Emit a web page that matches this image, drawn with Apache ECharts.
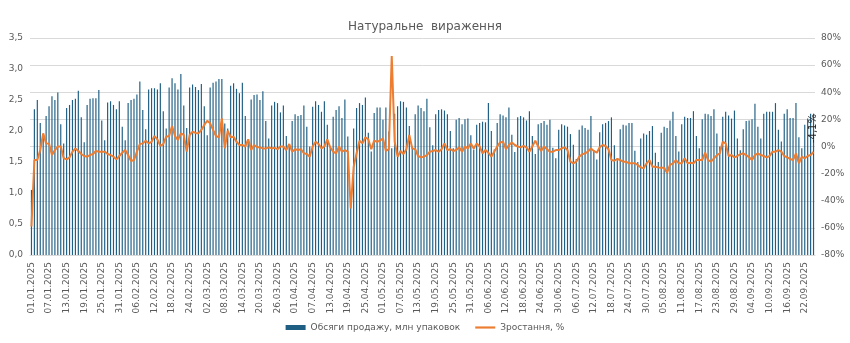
<!DOCTYPE html>
<html>
<head>
<meta charset="utf-8">
<script src="https://cdn.jsdelivr.net/npm/echarts@6/dist/echarts.min.js"></script>
<style>
html,body{margin:0;padding:0;background:#fff;}
#chart{width:850px;height:343px;}
</style>
</head>
<body>
<div id="chart"></div>
<script>
// Daily sales, mln packages (by month)
var salesJan = [1.05,2.35,2.50,2.13,1.90,2.24,2.40,2.56,2.50,2.62,2.11,1.80,2.37,2.42,2.50,2.52,2.65,2.22,1.82,2.42,2.52,2.53,2.53,2.66,2.17,1.85,2.46,2.48,2.42,2.35,2.48];
var salesFeb = [2.07,1.85,2.45,2.50,2.52,2.59,2.80,2.34,2.03,2.67,2.69,2.69,2.67,2.77,2.32,2.04,2.70,2.85,2.77,2.67,2.92,2.41,2.05,2.70,2.75,2.71,2.66,2.76];
var salesMar = [2.40,1.93,2.70,2.78,2.80,2.84,2.84,2.12,2.04,2.73,2.77,2.68,2.61,2.78,2.24,1.85,2.51,2.58,2.59,2.50,2.64,2.16,1.88,2.41,2.47,2.45,2.30,2.41,1.92,1.75,2.16];
var salesApr = [2.27,2.24,2.26,2.41,2.07,1.75,2.39,2.48,2.42,2.31,2.48,2.10,1.75,2.23,2.34,2.40,2.21,2.51,1.91,1.00,2.04,2.37,2.45,2.42,2.54,1.97,1.67,2.29,2.38,2.38];
var salesMay = [2.18,2.38,1.99,1.72,2.28,2.40,2.48,2.47,2.38,2.08,1.75,2.27,2.41,2.37,2.32,2.52,2.06,1.77,2.27,2.34,2.35,2.33,2.27,2.00,1.72,2.18,2.21,2.11,2.19,2.20,1.93];
var salesJun = [1.70,2.10,2.13,2.15,2.14,2.45,2.00,1.70,2.13,2.27,2.25,2.22,2.38,1.94,1.66,2.22,2.24,2.22,2.17,2.32,1.92,1.63,2.11,2.13,2.16,2.10,2.18,1.73,1.56,2.02];
var salesJul = [2.11,2.09,2.07,1.95,1.78,1.55,2.02,2.09,2.05,2.02,2.24,1.69,1.54,1.98,2.11,2.13,2.16,2.22,1.77,1.53,2.03,2.10,2.09,2.13,2.13,1.68,1.50,1.88,1.96,1.94,2.00];
var salesAug = [2.08,1.65,1.50,1.97,2.07,2.05,2.17,2.31,1.92,1.67,2.11,2.23,2.21,2.21,2.32,1.92,1.72,2.19,2.28,2.27,2.24,2.35,1.96,1.75,2.23,2.31,2.25,2.20,2.33,1.88,1.69];
var salesSep = [2.03,2.16,2.17,2.19,2.44,2.07,1.88,2.28,2.31,2.31,2.31,2.45,2.02,1.83,2.28,2.35,2.21,2.21,2.45,1.90,1.72,2.10,2.20,2.28,2.28];

// Growth, % (by month)
var growthJan = [-59,-10,-10,-2.6,9.7,2.3,2,-6.3,-2.6,0,0,-8.7,-9.5,-8,-3.8,-1.4,-3.3,-5.5,-7,-7.5,-6.3,-5.5,-3.3,-3.8,-3.8,-3.8,-5.5,-6.3,-7.5,-9.5,-7];
var growthFeb = [-4.6,-2.6,-6.3,-10.7,-10,-3.8,1.8,2.3,4.3,2.3,3.5,7.7,5.3,0.4,1.8,7.2,7.7,15.1,7.7,4.8,9.7,8.5,-3.8,8.5,10.9,10,9.7,12.2];
var growthMar = [15.9,19,17.1,12.2,7.7,6.8,20.8,-1.4,11.7,6.8,7.2,3.5,1.1,1.1,0,5.3,-2.6,1.1,-0.6,-0.6,-1.4,-1.4,-0.6,-1.4,-1,-2,0,0,-2.6,1.8,-3.8];
var growthApr = [-2,-2.6,-2,-5,-5.5,-7.5,0,3.5,1.8,-1.4,0,5.3,-0.6,-3.8,-5,0,-3.8,-2.6,-3.8,-45.6,-14.9,-5,4.3,2.3,6.8,5.3,-2,4.3,3.5,4.3];
var growthMay = [6,-3.3,-2,66.7,3.5,-7.5,-3.3,-5.5,-2,8.5,-1.4,-2,-7,-8,-7.5,-6.3,-3.8,-3.3,-2.6,-3.8,-2,2.3,-2.6,-2,-3.3,-2.6,-0.6,-3.8,0,-1.4,2.3];
var growthJun = [-1.4,2.3,0,-5,-2.6,-4.6,-7.5,-3.8,0,3,3.5,-2,1.1,3,1.1,0,-0.6,0.4,-0.6,-3.8,0,4.3,0,-3.3,0,-2,-3.8,-3.8,-2.6,-2.6];
var growthJul = [-1.4,-0.6,-2.6,-11.2,-12.4,-11.2,-7.5,-5.8,-5,-3.8,-1.4,-3.3,-4.6,-0.6,1.1,0.4,-2,-10,-10.5,-9.2,-10,-11.2,-11.2,-12.4,-12.4,-12.4,-13.6,-15.4,-16.1,-12.4,-10];
var growthAug = [-14.9,-14.9,-15.4,-15.6,-15.6,-19.3,-13.6,-12.4,-10,-12.4,-12.4,-8.7,-12.4,-12,-12.4,-10,-10,-10,-4.6,-10,-11.2,-8.7,-6.3,-5,3.5,2.3,-7,-6.3,-8,-7,-5.8];
var growthSep = [-5,-6.3,-8,-10,-6.3,-5,-6.3,-7,-8,-7,-3.8,-3.8,-2.6,-3.8,-7,-8,-9.2,-10,-5,-12.4,-7.5,-8.7,-7,-6.3,-4.1];

var monthDays = [31,28,31,30,31,30,31,31,25];
var seriesNames = ['Обсяги продажу, млн упаковок', 'Зростання, %'];
var titleText = 'Натуральне  вираження';
var lastLabel = '-4,1%';

var sales = [].concat(salesJan,salesFeb,salesMar,salesApr,salesMay,salesJun,salesJul,salesAug,salesSep);
var growth = [].concat(growthJan,growthFeb,growthMar,growthApr,growthMay,growthJun,growthJul,growthAug,growthSep);

var categories = [];
for (var m = 0; m < monthDays.length; m++) {
  for (var d = 1; d <= monthDays[m]; d++) {
    categories.push((d < 10 ? '0' : '') + d + '.' + (m + 1 < 10 ? '0' : '') + (m + 1) + '.2025');
  }
}
var lastIndex = growth.length - 1;

var font = 'DejaVu Sans';
var txt = '#595959';
var chart = echarts.init(document.getElementById('chart'), null, {renderer: 'canvas'});
chart.setOption({
  animation: false,
  backgroundColor: '#ffffff',
  title: {
    text: titleText, left: 'center', top: 16,
    textStyle: {color: txt, fontSize: 12, fontWeight: 'normal', fontFamily: font}
  },
  legend: {
    bottom: 6, left: 'center', itemGap: 15, itemWidth: 20, itemHeight: 5,
    textStyle: {color: txt, fontSize: 9, fontFamily: font},
    data: [
      {name: seriesNames[0], icon: 'rect'},
      {name: seriesNames[1], icon: 'path://M0,0H24V2.6H0Z'}
    ]
  },
  grid: {left: 30, right: 35, top: 38, bottom: 88, containLabel: false},
  xAxis: {
    type: 'category', data: categories, boundaryGap: true,
    axisLine: {show: true, lineStyle: {color: '#d9d9d9'}},
    axisTick: {show: false},
    axisLabel: {interval: 5, rotate: 90, color: txt, fontSize: 9, fontFamily: font, margin: 7}
  },
  yAxis: [
    {
      type: 'value', min: 0, max: 3.5, interval: 0.5,
      splitLine: {show: false}, axisLine: {show: false}, axisTick: {show: false},
      axisLabel: {color: txt, fontSize: 9, fontFamily: font, margin: 7,
        formatter: function (v) { return v.toFixed(1).replace('.', ','); }}
    },
    {
      type: 'value', min: -80, max: 80, interval: 20, position: 'right',
      splitLine: {show: true, lineStyle: {color: '#d9d9d9', width: 1}},
      axisLine: {show: false}, axisTick: {show: false},
      axisLabel: {color: txt, fontSize: 9, fontFamily: font, margin: 6,
        formatter: function (v) { return v + '%'; }}
    }
  ],
  series: [
    {
      name: seriesNames[0], type: 'bar', yAxisIndex: 0, data: sales,
      barWidth: '40%', itemStyle: {color: '#1f5f84'}
    },
    {
      name: seriesNames[1], type: 'line', yAxisIndex: 1, data: growth,
      symbol: 'none', lineStyle: {color: '#ED7D31', width: 2},
      itemStyle: {color: '#ED7D31'}, z: 5,
      markPoint: {
        symbol: 'circle', symbolSize: 0, silent: true,
        data: [{coord: [lastIndex, growth[lastIndex]]}],
        label: {
          show: true, formatter: lastLabel, rotate: 90, position: 'top',
          distance: 9, align: 'left', verticalAlign: 'middle',
          color: '#262626', fontSize: 10, fontFamily: font
        }
      }
    }
  ]
});
</script>
</body>
</html>
